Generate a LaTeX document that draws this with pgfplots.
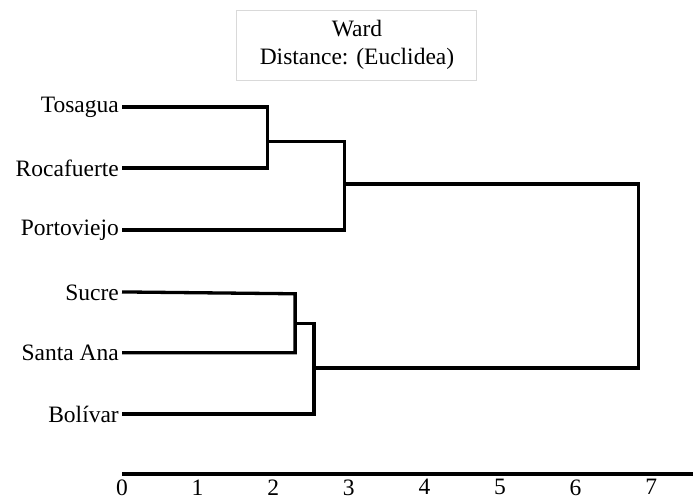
\documentclass[border=0pt]{standalone}
\usepackage{pgfplots}
\pgfplotsset{compat=1.18}
\usepackage{fontspec}
\setmainfont{Liberation Serif}
\begin{document}
\begin{tikzpicture}
\begin{axis}[
  x=75.6bp, y=61.4bp,
  xmin=0, xmax=7.553, ymin=0, ymax=7.725,
  clip=false,
  axis x line*=bottom,
  axis y line*=left,
  x axis line style={line width=4bp, -},
  y axis line style={draw=none},
  major tick length=0pt,
  xtick={0,1,2,3,4,5,6,7},
  ytick={0.98,1.98,2.96,3.98,4.99,5.98},
  yticklabels={Bolívar,Santa Ana,Sucre,Portoviejo,Rocafuerte,Tosagua},
  tick label style={font=\fontsize{23.5bp}{28bp}\selectfont},
  /pgf/number format/assume math mode=true,
  xticklabel style={anchor=north, inner sep=0pt, yshift=-5bp},
  yticklabel style={anchor=east, inner sep=0pt, xshift=-3bp},
]
\addplot[black, line width=3.3bp] coordinates {(0,5.98) (1.92,5.98) (1.92,4.99) (0,4.99)};
\addplot[black, line width=3.3bp] coordinates {(1.92,5.42) (2.94,5.42) (2.94,3.98) (0,3.98)};
\addplot[black, line width=3.3bp] coordinates {(2.94,4.73) (6.83,4.73) (6.83,1.73) (2.54,1.73)};
\addplot[black, line width=3.3bp] coordinates {(0,2.97) (2.29,2.94) (2.29,1.98) (0,1.98)};
\addplot[black, line width=3.3bp] coordinates {(2.29,2.46) (2.54,2.46) (2.54,0.98) (0,0.98)};
\node[draw=black!15, line width=1bp, align=center, minimum width=240bp, minimum height=70bp,
  font=\fontsize{23.5bp}{28bp}\selectfont, inner sep=0pt] at (axis cs:3.108,6.99) {Ward\\Distance: (Euclidea)};
\coordinate (BL) at (axis cs:-1.614,-0.435);
\coordinate (TR) at (axis cs:7.553,7.725);
\end{axis}
\pgfresetboundingbox
\path[use as bounding box] (BL) rectangle (TR);
\end{tikzpicture}
\end{document}
